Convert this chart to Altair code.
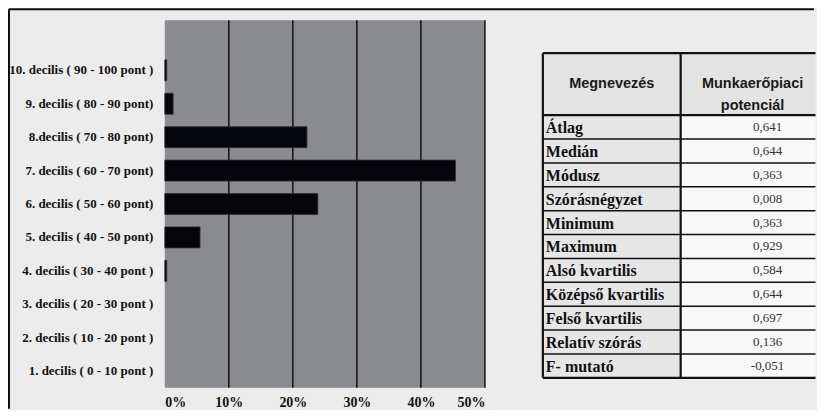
import altair as alt
import pandas as pd

# ---------------- data ----------------
categories = [
    "10. decilis ( 90 - 100 pont )",
    "9. decilis ( 80 - 90 pont)",
    "8.decilis ( 70 - 80 pont)",
    "7. decilis ( 60 - 70 pont)",
    "6. decilis ( 50 - 60 pont)",
    "5. decilis ( 40 - 50 pont)",
    "4. decilis ( 30 - 40 pont )",
    "3. decilis ( 20 - 30 pont )",
    "2. decilis ( 10 - 20 pont )",
    "1. decilis ( 0 - 10 pont )",
]
shares = [0.3, 1.3, 22.2, 45.4, 23.9, 5.5, 0.3, 0.0, 0.0, 0.0]
x_ticks = [0, 10, 20, 30, 40, 50]
grid_values = [10, 20, 30, 40, 50]

header_labels = ["Megnevezés", "Munkaerőpiaci\npotenciál"]
stat_names = ["Átlag", "Medián", "Módusz", "Szórásnégyzet", "Minimum", "Maximum",
              "Alsó kvartilis", "Középső kvartilis", "Felső kvartilis",
              "Relatív szórás", "F- mutató"]
stat_values = ["0,641", "0,644", "0,363", "0,008", "0,363", "0,929",
               "0,584", "0,644", "0,697", "0,136", "-0,051"]

# ---------------- style ----------------
BG = "#ececec"
PLOT_GRAY = "#8a8b8f"
BAR = "#05050c"
PLOT_W, PLOT_H = 320.5, 368
AXIS_EXTENT = 157
TOP_GAP = 12

# ---------------- bar panel ----------------
bar_df = pd.DataFrame({"cat": categories, "share": shares})
y_domain = [" "] + categories

x_scale = alt.Scale(domain=[0, 50], nice=False, zero=True)
x_axis = alt.Axis(title=None, values=x_ticks, labelExpr="datum.value + '%'",
                  ticks=False, domain=False, grid=False, labelPadding=8,
                  labelFont="Liberation Serif", labelFontWeight="bold",
                  labelFontSize=14, labelColor="#111")
y_axis = alt.Axis(title=None, ticks=False, domain=False, labelPadding=12,
                  minExtent=AXIS_EXTENT, maxExtent=AXIS_EXTENT,
                  labelFont="Liberation Serif", labelFontWeight="bold",
                  labelFontSize=13, labelColor="#111", labelLimit=300)

bg_df = pd.DataFrame({"x0": [0], "x1": [50]})
plot_bg = alt.Chart(bg_df).mark_rect(color=PLOT_GRAY).encode(
    x=alt.X("x0:Q", scale=x_scale, axis=x_axis), x2="x1:Q",
    y=alt.value(0), y2=alt.value(PLOT_H))

grid_df = pd.DataFrame({"g": grid_values})
grid = alt.Chart(grid_df).mark_rule(color="#111", strokeWidth=1.5).encode(
    x=alt.X("g:Q", scale=x_scale, axis=x_axis))

bars = alt.Chart(bar_df).transform_filter("datum.share > 0").mark_bar(
    size=21, color=BAR, stroke="#2e2e33", strokeWidth=0.8).encode(
    x=alt.X("share:Q", scale=x_scale, axis=x_axis),
    y=alt.Y("cat:N", scale=alt.Scale(domain=y_domain), sort=y_domain, axis=y_axis))

frame_df = pd.DataFrame({"a": [0]})
top_line = alt.Chart(frame_df).mark_rule(color="#111", strokeWidth=2).encode(
    x=alt.value(-156), x2=alt.value(650), y=alt.value(-(TOP_GAP - 1)))
left_line = alt.Chart(frame_df).mark_rule(color="#111", strokeWidth=2).encode(
    x=alt.value(-156), y=alt.value(-(TOP_GAP - 1)), y2=alt.value(389))

left = alt.layer(plot_bg, grid, bars, top_line, left_line).properties(
    width=PLOT_W, height=PLOT_H)

# ---------------- table panel ----------------
COL_EDGES = [0, 138, 273]
HEADER_H = 2.594
n = len(stat_names)
# row units (~23.9px each); header is HEADER_H units tall, placed above row 0
y_t = alt.Scale(domain=[-3.974, 11.418], reverse=True, nice=False, zero=False)
x_t = alt.Scale(domain=[0, COL_EDGES[-1]], nice=False, zero=False)

cells = []
for c in range(2):
    cells.append({"x0": COL_EDGES[c], "x1": COL_EDGES[c + 1],
                  "y0": -HEADER_H, "y1": 0, "fill": "#e3e3e3"})
for i in range(n):
    cells.append({"x0": COL_EDGES[0], "x1": COL_EDGES[1], "y0": i, "y1": i + 1, "fill": "#e6e6e6"})
    cells.append({"x0": COL_EDGES[1], "x1": COL_EDGES[2], "y0": i, "y1": i + 1, "fill": "#f8f8f8"})
cells_df = pd.DataFrame(cells)

cell_layer = alt.Chart(cells_df).mark_rect().encode(
    x=alt.X("x0:Q", scale=x_t, axis=None), x2="x1:Q",
    y=alt.Y("y0:Q", scale=y_t, axis=None), y2="y1:Q",
    color=alt.Color("fill:N", scale=None))

hl = [{"y": -HEADER_H, "x0": 0, "x1": COL_EDGES[-1], "w": 2.2},
      {"y": 0, "x0": 0, "x1": COL_EDGES[-1], "w": 2.2}]
for i in range(1, n + 1):
    hl.append({"y": i, "x0": 0, "x1": COL_EDGES[-1], "w": 2.2 if i == n else 1.5})
hl_df = pd.DataFrame(hl)
h_lines = alt.Chart(hl_df).mark_rule(color="#111").encode(
    x=alt.X("x0:Q", scale=x_t, axis=None), x2="x1:Q",
    y=alt.Y("y:Q", scale=y_t, axis=None),
    size=alt.Size("w:Q", scale=None))

vl_df = pd.DataFrame({"x": COL_EDGES[:2], "y0": [-HEADER_H, -HEADER_H], "y1": [n, n]})
v_lines = alt.Chart(vl_df).mark_rule(color="#111", strokeWidth=2.2).encode(
    x=alt.X("x:Q", scale=x_t, axis=None),
    y=alt.Y("y0:Q", scale=y_t, axis=None), y2="y1:Q")

head_df = pd.DataFrame({"t": header_labels, "x": [69, 210], "y": [-HEADER_H / 2] * 2})
head_text = alt.Chart(head_df).mark_text(
    font="Liberation Sans", fontWeight="bold", fontSize=14.5, color="#1a1a1a",
    lineBreak="\n", lineHeight=22, align="center", baseline="middle").encode(
    x=alt.X("x:Q", scale=x_t, axis=None), y=alt.Y("y:Q", scale=y_t, axis=None),
    text="t:N")

rows_df = pd.DataFrame({"name": stat_names, "val": stat_values,
                        "y": [i + 0.5 for i in range(n)]})
name_text = alt.Chart(rows_df).mark_text(
    font="Liberation Serif", fontWeight="bold", fontSize=16, color="#111",
    align="left", baseline="middle", dx=3, dy=1).encode(
    x=alt.value(0), y=alt.Y("y:Q", scale=y_t, axis=None), text="name:N")
val_text = alt.Chart(rows_df).transform_calculate(xv="225").mark_text(
    font="Liberation Serif", fontSize=13, color="#333",
    align="center", baseline="middle").encode(
    x=alt.X("xv:Q", scale=x_t, axis=None), y=alt.Y("y:Q", scale=y_t, axis=None),
    text="val:N")

table = alt.layer(cell_layer, h_lines, v_lines, head_text, name_text, val_text).properties(
    width=COL_EDGES[-1], height=PLOT_H)

chart = alt.hconcat(left, table, spacing=57.5, bounds="flush").properties(
    padding=0, background=BG).configure_view(strokeWidth=0)

chart.save("out.html", embed_options={"renderer": "svg", "actions": False})
